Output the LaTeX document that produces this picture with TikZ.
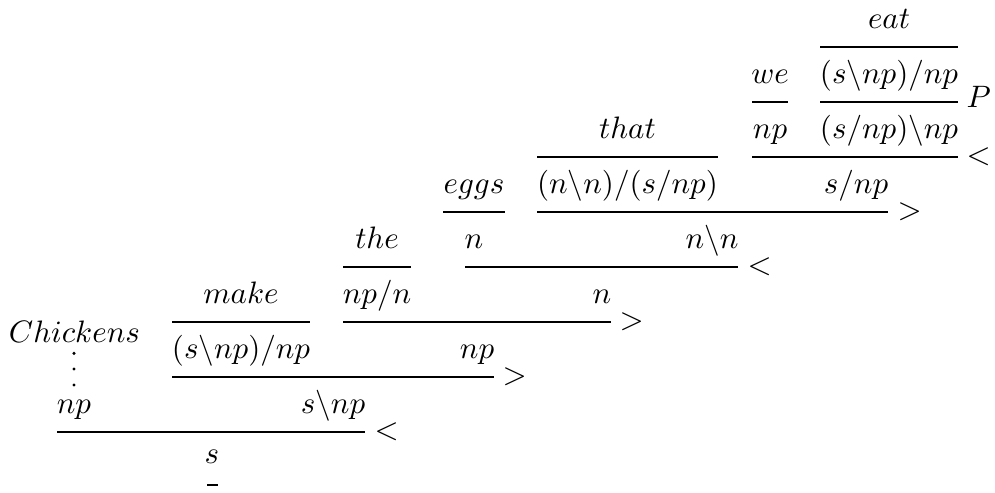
\documentclass[tikz,border=0pt]{standalone}
\begin{document}
\begin{tikzpicture}[x=0.32258pt,y=-0.32258pt,
  lbl/.style={anchor=base,inner sep=0pt},
  opl/.style={anchor=west,inner sep=0pt},
  rulel/.style={line width=0.6pt}]
\useasboundingbox (0,0) rectangle (995,492);
% eat / we
\node[lbl] (eat) at (889,28) {$eat$};
\draw[rulel] (820,46.7) coordinate (r1a) -- (958,46.7) coordinate (r1b);
\node[lbl] (we) at (770,83) {$we$};
\node[lbl] (eatc) at (889,83) {$(s\backslash np)/np$};
\draw[rulel] (752,101.7) coordinate (r2a) -- (788,101.7) coordinate (r2b);
\draw[rulel] (820,101.7) coordinate (r3a) -- (958,101.7) coordinate (r3b);
\node[anchor=base west,inner sep=0pt] (P) at (966,107) {$P$};
\node[lbl] (wenp) at (770,138) {$np$};
\node[lbl] (eatr) at (889,138) {$(s/np)\backslash np$};
\draw[rulel] (752,156.7) coordinate (r4a) -- (958,156.7) coordinate (r4b);
\node[opl] (o4) at (966,156.7) {$<$};
\node[lbl] (snp1) at (856,193) {$s/np$};
% that
\node[lbl] (that) at (627.5,138) {$that$};
\draw[rulel] (537,156.7) coordinate (r5a) -- (718,156.7) coordinate (r5b);
\node[lbl] (thatc) at (627.5,193) {$(n\backslash n)/(s/np)$};
\draw[rulel] (537,211.7) coordinate (r6a) -- (888,211.7) coordinate (r6b);
\node[opl] (o6) at (897,211.7) {$>$};
\node[lbl] (nn) at (712,248) {$n\backslash n$};
% eggs
\node[lbl] (eggs) at (474,193) {$eggs$};
\draw[rulel] (443,211.7) coordinate (r7a) -- (505,211.7) coordinate (r7b);
\node[lbl] (eggsn) at (474,248) {$n$};
\draw[rulel] (465,266.7) coordinate (r8a) -- (738,266.7) coordinate (r8b);
\node[opl] (o8) at (747,266.7) {$<$};
\node[lbl] (n2) at (602,303) {$n$};
% the
\node[lbl] (the) at (377,248) {$the$};
\draw[rulel] (343,266.7) coordinate (r9a) -- (411,266.7) coordinate (r9b);
\node[lbl] (thec) at (377,303) {$np/n$};
\draw[rulel] (343,321.7) coordinate (r10a) -- (611,321.7) coordinate (r10b);
\node[opl] (o10) at (619,321.7) {$>$};
\node[lbl] (np2) at (477,358) {$np$};
% make
\node[lbl] (make) at (241,303) {$make$};
\draw[rulel] (172,321.7) coordinate (r11a) -- (310,321.7) coordinate (r11b);
\node[lbl] (makec) at (241,358) {$(s\backslash np)/np$};
\draw[rulel] (172,376.7) coordinate (r12a) -- (494,376.7) coordinate (r12b);
\node[opl] (o12) at (502,376.7) {$>$};
\node[lbl] (snp2) at (333,413) {$s\backslash np$};
% chickens
\node[lbl] (chick) at (74.5,342) {$Chickens$};
\fill (74,353.3) circle (0.55pt) (74,369) circle (0.55pt) (74,385) circle (0.55pt);
\node[lbl] (np1) at (74,413) {$np$};
\draw[rulel] (57,431.7) coordinate (r13a) -- (365,431.7) coordinate (r13b);
\node[opl] (o13) at (374,431.7) {$<$};
\node[lbl] (s) at (212,463.5) {$s$};
\draw[rulel] (207,485) -- (218,485);
\end{tikzpicture}
\end{document}
